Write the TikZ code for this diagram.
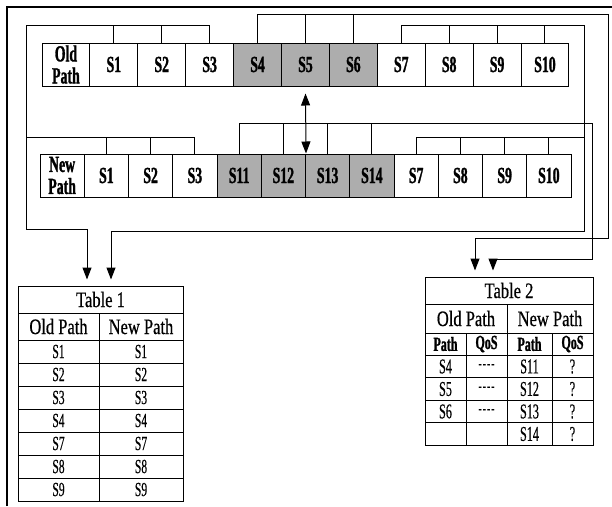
\documentclass[tikz,border=0pt]{standalone}
\usepackage{fontspec}
\newfontfamily\segfont[FakeStretch=0.6, BoldFeatures={FakeBold=1.2}]{Liberation Serif}
\newfontfamily\cellfont[FakeStretch=0.58, FakeBold=0.4]{Liberation Serif}
\newfontfamily\tabfont[FakeStretch=0.75, FakeBold=0.6]{Liberation Serif}
\usetikzlibrary{arrows.meta}
\newcommand\nilqos{\fontsize{17}{17}\selectfont-\kern1pt-\kern1pt-\kern1pt-}

\tikzset{
  seg/.style={draw, line width=1pt, minimum height=43pt, inner sep=0pt, align=center,
    font=\segfont\bfseries\fontsize{23}{22}\selectfont},
  cell/.style={draw, line width=1pt, inner sep=0pt, font=\cellfont\fontsize{20}{20}\selectfont},
  bigcell/.style={cell, font=\cellfont\fontsize{21}{21}\selectfont},
  subcell/.style={cell, font=\segfont\bfseries\fontsize{20}{20}\selectfont},
  headcell/.style={cell, font=\tabfont\fontsize{22}{22}\selectfont},
  wire/.style={line width=1pt},
  feed/.style={wire, -{Triangle[length=12pt,width=9pt]}, shorten >=6pt},
}

\begin{document}
\begin{tikzpicture}[x=1pt, y=-1pt]
\useasboundingbox (0,0) rectangle (612,506);
\draw[line width=2.2pt] (7,506) -- (7,7) -- (612,7);

% old path
\foreach \t/\f [count=\i from 0] in {{Old\\Path}/white, S1/white, S2/white, S3/white, S4/black!32, S5/black!32, S6/black!32, S7/white, S8/white, S9/white, S10/white}
  \node[seg, minimum width=47.9pt, fill=\f] (o\i) at ({42+47.9*(\i+0.5)},64.5) {\t};

% new path
\foreach \t/\f [count=\i from 0] in {{New\\Path}/white, S1/white, S2/white, S3/white, S11/black!32, S12/black!32, S13/black!32, S14/black!32, S7/white, S8/white, S9/white, S10/white}
  \node[seg, minimum width=44.25pt, fill=\f] (n\i) at ({40+44.25*(\i+0.5)},175.5) {\t};

% table 1
\node[headcell, minimum width=165pt, minimum height=27pt] (tab1) at (100.5,299.5) {Table 1};
\node[headcell, minimum width=81pt, minimum height=27pt] (tab1old) at (58.5,326.5) {Old Path};
\node[headcell, minimum width=84pt, minimum height=27pt] (tab1new) at (141,326.5) {New Path};
\foreach \a [count=\r from 0] in {S1,S2,S3,S4,S7,S8,S9} {
  \node[cell, minimum width=81pt, minimum height=23pt] (tab1a\r) at (58.5,{351.5+23*\r}) {\a};
  \node[cell, minimum width=84pt, minimum height=23pt] (tab1b\r) at (141,{351.5+23*\r}) {\a};
}

% table 2
\node[headcell, minimum width=168pt, minimum height=27pt] (tab2) at (509,290.5) {Table 2};
\node[headcell, minimum width=82pt, minimum height=29pt] (tab2old) at (466,318.5) {Old Path};
\node[headcell, minimum width=86pt, minimum height=29pt] (tab2new) at (550,318.5) {New Path};
\foreach \h/\x/\w [count=\c] in {Path/445.5/41, QoS/486.5/41, Path/529.5/45, QoS/572.5/41}
  \node[subcell, minimum width=\w pt, minimum height=22pt] (tab2h\c) at (\x,344) {\h};
\foreach \a/\b/\c/\d [count=\r from 0] in {S4/\nilqos/S11/?, S5/\nilqos/S12/?, S6/\nilqos/S13/?, {}/{}/S14/?} {
  \node[bigcell, minimum width=41pt, minimum height=22.5pt] (tab2a\r) at (445.5,{366.5+22.5*\r}) {\a};
  \node[bigcell, minimum width=41pt, minimum height=22.5pt] (tab2b\r) at (486.5,{366.5+22.5*\r}) {\b};
  \node[bigcell, minimum width=45pt, minimum height=22.5pt] (tab2c\r) at (529.5,{366.5+22.5*\r}) {\c};
  \node[bigcell, minimum width=41pt, minimum height=22.5pt] (tab2d\r) at (572.5,{366.5+22.5*\r}) {\d};
}

\coordinate (in1a) at ([xshift=-13.5pt]tab1.north);
\coordinate (in1b) at ([xshift=10.5pt]tab1.north);
\coordinate (in2a) at ([xshift=-34pt]tab2.north);
\coordinate (in2b) at ([xshift=-16pt]tab2.north);

% old path groups
\draw[feed] (o3.north) |- (26,25) -- (26,229) -| (in1a);
\draw[wire] (o1.north) -- ++(0,-18) (o2.north) -- ++(0,-18);
\draw[feed] (o4.north) |- (608,14) -- (608,238) -| (in2a);
\draw[wire] (o5.north) -- ++(0,-29) (o6.north) -- ++(0,-29);
\draw[feed] (o7.north) |- (584,25) -- (584,231) -| (in1b);
\draw[wire] (o8.north) -- ++(0,-18) (o9.north) -- ++(0,-18) (o10.north) -- ++(0,-18);

% new path groups
\draw[wire] (n3.north) |- (26,137);
\draw[wire] (n1.north) -- ++(0,-17) (n2.north) -- ++(0,-17);
\draw[feed] (n4.north) |- (592,123) -- (592,259) -| (in2b);
\draw[wire] (n5.north) -- ++(0,-31) (n6.north) -- ++(0,-31) (n7.north) -- ++(0,-31);
\draw[wire] (n8.north) |- (584,137);
\draw[wire] (n9.north) -- ++(0,-17) (n10.north) -- ++(0,-17) (n11.north) -- ++(0,-17);

\draw[wire, {Triangle[length=12pt,width=9pt]}-{Triangle[length=12pt,width=9pt]}, shorten <=7pt] (o5.south) -- (n5.north east);

\end{tikzpicture}
\end{document}
